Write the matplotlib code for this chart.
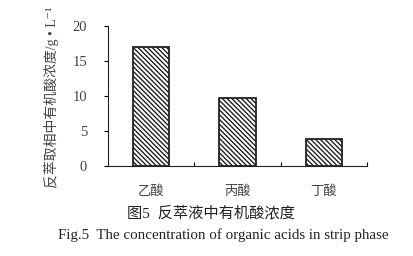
import numpy as np
import matplotlib.pyplot as plt

plt.rcParams['font.family'] = ['Liberation Serif', 'Noto Sans CJK SC', 'DejaVu Sans']
plt.rcParams['hatch.linewidth'] = 1.0

acids = ['乙酸', '丙酸', '丁酸']
conc = [17.0, 9.7, 3.8]
yticks = [0, 5, 10, 15, 20]

fig = plt.figure(figsize=(4.14, 2.56), dpi=100)
ax = fig.add_axes([0.261, 0.352, 0.625, 0.547])

x = np.arange(len(acids))
ax.bar(x, conc, width=0.42, color='white', edgecolor='#222222',
       hatch='\\\\\\\\\\\\\\', linewidth=1.3)

ax.set_xlim(-0.5, 2.5)
ax.set_ylim(0, 20)
ax.set_yticks(yticks)
ax.set_yticklabels([str(v) for v in yticks], fontsize=10.5, color='#444444')
ax.tick_params(axis='y', direction='out', length=3, pad=12)

# category ticks between groups, pointing up
ax.set_xticks([0.5, 1.5, 2.5])
ax.set_xticklabels([])
ax.set_xticks(x, minor=True)
ax.set_xticklabels(acids, minor=True, fontsize=9.5, color='#444444')
ax.tick_params(axis='x', which='major', direction='in', length=3)
ax.tick_params(axis='x', which='minor', length=0, pad=14)

for s in ['top', 'right']:
    ax.spines[s].set_visible(False)
for s in ['left', 'bottom']:
    ax.spines[s].set_color('#222222')

ax.set_ylabel('反萃取相中有机酸浓度/g • L⁻¹', fontsize=10, color='#444444')
ax.yaxis.set_label_coords(-0.19, 0.49)

fig.text(0.51, 0.168, '图5  反萃液中有机酸浓度', ha='center', va='center',
         fontsize=11, color='#222222')
fig.text(0.54, 0.082, 'Fig.5  The concentration of organic acids in strip phase',
         ha='center', va='center', fontsize=10.8, color='#222222')

fig.savefig('out.png', dpi=100)
